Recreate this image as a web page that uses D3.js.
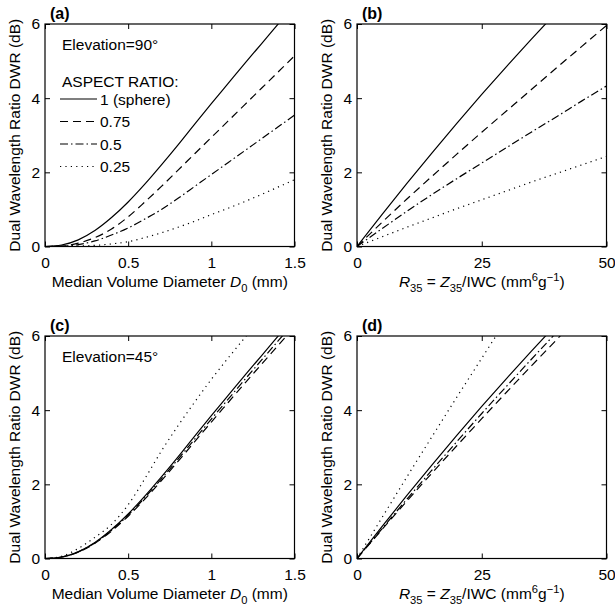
<!DOCTYPE html>
<html><head><meta charset="utf-8">
<script src="https://cdn.jsdelivr.net/npm/d3@7"></script>
<style>
body{margin:0;background:#fff;}
text{font-family:"Liberation Sans",Arial,Helvetica,sans-serif;fill:#000;}
</style></head>
<body><svg id="c" width="615" height="608"></svg>
<script>
// ---------- data ----------
const d0 = [0,0.1,0.2,0.3,0.4,0.5,0.6,0.7,0.8,0.9,1.0,1.1,1.2,1.3,1.4,1.5];
const r35 = [0,5,10,15,20,25,30,35,40,45,50];
const aspectRatios = ["1 (sphere)","0.75","0.5","0.25"];

// (a) elevation 90, DWR vs D0
const a_sphere = [0,0.04,0.18,0.43,0.78,1.2,1.68,2.2,2.74,3.3,3.85,4.39,4.93,5.46,5.99,6.52];
const a_075    = [0,0.01,0.09,0.24,0.47,0.8,1.2,1.62,2.06,2.5,2.94,3.38,3.82,4.26,4.7,5.14];
const a_050    = [0,0.01,0.05,0.15,0.31,0.5,0.74,1.0,1.3,1.62,1.94,2.26,2.58,2.9,3.22,3.54];
const a_025    = [0,0,0.01,0.03,0.07,0.13,0.24,0.37,0.52,0.68,0.86,1.03,1.21,1.4,1.6,1.8];
// (b) elevation 90, DWR vs R35
const b_sphere = [0,0.86,1.7,2.52,3.32,4.1,4.86,5.6,6.32,7.02,7.7];
const b_075    = [0,0.65,1.28,1.89,2.49,3.08,3.66,4.24,4.82,5.39,5.96];
const b_050    = [0,0.48,0.95,1.4,1.83,2.25,2.67,3.09,3.5,3.92,4.33];
const b_025    = [0,0.26,0.52,0.77,1.02,1.26,1.5,1.74,1.97,2.2,2.43];
// (c) elevation 45, DWR vs D0
const c_sphere = [0,0.04,0.18,0.43,0.78,1.2,1.68,2.2,2.74,3.3,3.85,4.39,4.93,5.46,5.99,6.52];
const c_075    = [0,0.04,0.17,0.41,0.74,1.14,1.6,2.1,2.62,3.15,3.68,4.2,4.72,5.23,5.74,6.25];
const c_050    = [0,0.04,0.18,0.42,0.76,1.17,1.64,2.15,2.68,3.22,3.76,4.29,4.82,5.34,5.86,6.38];
const c_025    = [0,0.06,0.27,0.57,0.92,1.45,2.15,2.9,3.58,4.22,4.83,5.4,5.95,6.5,7.0,7.5];
// (d) elevation 45, DWR vs R35
const d_sphere = [0,0.86,1.7,2.52,3.32,4.1,4.86,5.6,6.32,7.02,7.7];
const d_075    = [0,0.78,1.55,2.3,3.04,3.77,4.49,5.2,5.9,6.6,7.3];
const d_050    = [0,0.8,1.6,2.38,3.15,3.91,4.65,5.38,6.1,6.82,7.53];
const d_025    = [0,1.1,2.2,3.28,4.35,5.4,6.45,7.48,8.5,9.5,10.5];

const yTicks = [0,2,4,6];
const d0Ticks = [0,0.5,1,1.5];
const d0TickLabels = ["0","0.5","1","1.5"];
const rTicks = [0,25,50];
const rTickLabels = ["0","25","50"];

// ---------- styles ----------
const dashes = ["none","8,5","8,3,1.5,3","1.2,4.2"];

const svg = d3.select("#c");
const FS = 15.5;

const panels = [
  {id:"a", left:45, top:24, xs:d0, ys:[a_sphere,a_075,a_050,a_025], xdom:[0,1.5], ticks:d0Ticks, tl:d0TickLabels, xlab:"D", elev:"Elevation=90°", legend:true},
  {id:"b", left:357, top:24, xs:r35, ys:[b_sphere,b_075,b_050,b_025], xdom:[0,50], ticks:rTicks, tl:rTickLabels, xlab:"R"},
  {id:"c", left:45, top:336, xs:d0, ys:[c_sphere,c_075,c_050,c_025], xdom:[0,1.5], ticks:d0Ticks, tl:d0TickLabels, xlab:"D", elev:"Elevation=45°"},
  {id:"d", left:357, top:336, xs:r35, ys:[d_sphere,d_075,d_050,d_025], xdom:[0,50], ticks:rTicks, tl:rTickLabels, xlab:"R"}
];
const W = 249.5, H = 222.5;

panels.forEach(p=>{
  const g = svg.append("g").attr("transform",`translate(${p.left},${p.top})`);
  const x = d3.scaleLinear().domain(p.xdom).range([0,W]);
  const y = d3.scaleLinear().domain([0,6]).range([H,0]);
  const clipId = "clip"+p.id;
  g.append("clipPath").attr("id",clipId).append("rect").attr("width",W).attr("height",H);

  // lines
  const line = d3.line().x((d,i)=>x(p.xs[i])).y(d=>y(d)).curve(d3.curveMonotoneX);
  p.ys.forEach((s,k)=>{
    g.append("path").attr("d",line(s)).attr("clip-path",`url(#${clipId})`)
      .attr("fill","none").attr("stroke","#000").attr("stroke-width",1.2)
      .attr("stroke-dasharray",dashes[k]==="none"?null:dashes[k]);
  });

  // axes with inward ticks on all sides
  const ax = d3.axisBottom(x).tickValues(p.ticks).tickFormat((d,i)=>p.tl[i]).tickSizeInner(-5).tickSizeOuter(0).tickPadding(10);
  const gx = g.append("g").attr("transform",`translate(0,${H})`).call(ax);
  const axT = d3.axisTop(x).tickValues(p.ticks).tickFormat("").tickSizeInner(-5).tickSizeOuter(0);
  const gxt = g.append("g").call(axT);
  const ay = d3.axisLeft(y).tickValues(yTicks).tickFormat(d3.format("d")).tickSizeInner(-5).tickSizeOuter(0).tickPadding(5);
  const gy = g.append("g").call(ay);
  const ayR = d3.axisRight(y).tickValues(yTicks).tickFormat("").tickSizeInner(-5).tickSizeOuter(0);
  const gyr = g.append("g").attr("transform",`translate(${W},0)`).call(ayR);
  [gx,gxt,gy,gyr].forEach(a=>{
    a.select(".domain").remove();
    a.selectAll("line").attr("stroke","#000").attr("stroke-width",1);
    a.selectAll("text").attr("font-size",FS).attr("font-family","Liberation Sans, Arial, sans-serif").attr("fill","#000");
  });
  g.append("rect").attr("width",W).attr("height",H).attr("fill","none").attr("stroke","#000").attr("stroke-width",1.2);

  // panel letter
  g.append("text").attr("x",5).attr("y",-5).attr("font-size",16).attr("font-weight","bold").text(`(${p.id})`);

  // y label
  g.append("text").attr("transform",`translate(-25,${H/2}) rotate(-90)`).attr("text-anchor","middle")
    .attr("font-size",FS).text("Dual Wavelength Ratio DWR (dB)");

  // x label
  const xl = g.append("text").attr("x",W/2).attr("y",H+40).attr("text-anchor","middle").attr("font-size",FS);
  if(p.xlab==="D"){
    xl.append("tspan").text("Median Volume Diameter ");
    xl.append("tspan").attr("font-style","italic").text("D");
    xl.append("tspan").attr("dy",5).attr("font-size",FS*0.72).text("0");
    xl.append("tspan").attr("dy",-5).text(" (mm)");
  } else {
    xl.append("tspan").attr("font-style","italic").text("R");
    xl.append("tspan").attr("dy",5).attr("font-size",FS*0.72).text("35");
    xl.append("tspan").attr("dy",-5).text(" = ");
    xl.append("tspan").attr("font-style","italic").text("Z");
    xl.append("tspan").attr("dy",5).attr("font-size",FS*0.72).text("35");
    xl.append("tspan").attr("dy",-5).text("/IWC (mm");
    xl.append("tspan").attr("dy",-6).attr("font-size",FS*0.72).text("6");
    xl.append("tspan").attr("dy",6).text("g");
    xl.append("tspan").attr("dy",-6).attr("font-size",FS*0.72).text("\u22121");
    xl.append("tspan").attr("dy",6).text(")");
  }

  if(p.elev){
    g.append("text").attr("x",17).attr("y",26).attr("font-size",FS).text(p.elev);
  }
  if(p.legend){
    g.append("text").attr("x",17).attr("y",63).attr("font-size",FS).text("ASPECT RATIO:");
    aspectRatios.forEach((lab,k)=>{
      const yy = 75 + k*22.5;
      g.append("line").attr("x1",15).attr("x2",52).attr("y1",yy).attr("y2",yy)
        .attr("stroke","#000").attr("stroke-width",1.2)
        .attr("stroke-dasharray",dashes[k]==="none"?null:dashes[k]);
      g.append("text").attr("x",55).attr("y",yy+5.5).attr("font-size",FS).text(lab);
    });
  }
});
</script></body></html>
